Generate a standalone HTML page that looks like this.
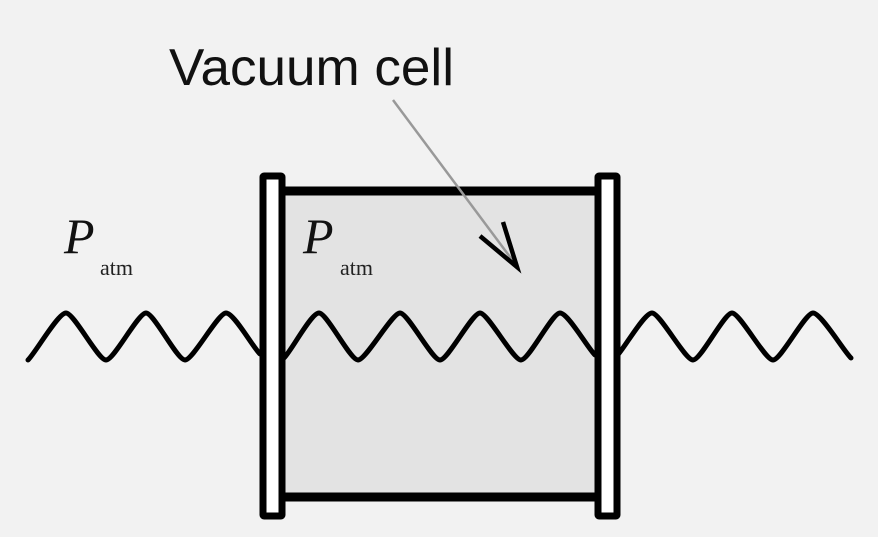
<!DOCTYPE html>
<html><head><meta charset="utf-8"><style>
html,body{margin:0;padding:0;background:#f2f2f2;}
svg{display:block}
</style></head><body>
<svg width="878" height="537" viewBox="0 0 878 537" xmlns="http://www.w3.org/2000/svg">
<rect width="878" height="537" fill="#f2f2f2"/>
<rect x="285" y="191" width="310" height="306" fill="#e3e3e3"/>
<line x1="283" y1="191" x2="597" y2="191" stroke="#000" stroke-width="9"/>
<line x1="283" y1="497" x2="597" y2="497" stroke="#000" stroke-width="9"/>
<rect x="263" y="176" width="19" height="340" fill="#fff" stroke="#000" stroke-width="7" rx="1"/>
<rect x="598" y="176" width="19" height="340" fill="#fff" stroke="#000" stroke-width="7" rx="1"/>
<g fill="none" stroke="#000" stroke-width="5" stroke-linejoin="round" stroke-linecap="round">
<path d="M28,360 C36,352 58,313 66,313 C74,313 98,360 106,360 C114,360 138,313 146,313 C154,313 177,360 185,360 C193,360 218,313 226,313 C234,313 252,346 260,354"/>
<path d="M284,358 C292,350 311,313 319,313 C327,313 350,360 358,360 C366,360 392,313 400,313 C408,313 432,360 440,360 C448,360 472,313 480,313 C488,313 513,360 521,360 C529,360 552,313 560,313 C568,313 587,347 595,355"/>
<path d="M616,357 C624,349 644,313 652,313 C660,313 685,360 693,360 C701,360 724,313 732,313 C740,313 765,360 773,360 C781,360 805,313 813,313 C821,313 843,350 851,358"/>
</g>
<line x1="393" y1="100" x2="516" y2="265" stroke="#999" stroke-width="2.5"/>
<polyline points="480,236 517,267 503,222" fill="none" stroke="#000" stroke-width="4.5" stroke-linejoin="miter"/>
<text x="169" y="85" font-family="Liberation Sans, sans-serif" font-size="52" textLength="285" lengthAdjust="spacingAndGlyphs" fill="#111">Vacuum cell</text>
<text x="64" y="253" font-family="Liberation Serif, serif" font-style="italic" font-size="50" fill="#111">P</text>
<text x="100" y="275" font-family="Liberation Serif, serif" font-size="22" fill="#222">atm</text>
<text x="303" y="253" font-family="Liberation Serif, serif" font-style="italic" font-size="50" fill="#111">P</text>
<text x="340" y="275" font-family="Liberation Serif, serif" font-size="22" fill="#222">atm</text>
</svg>
</body></html>
